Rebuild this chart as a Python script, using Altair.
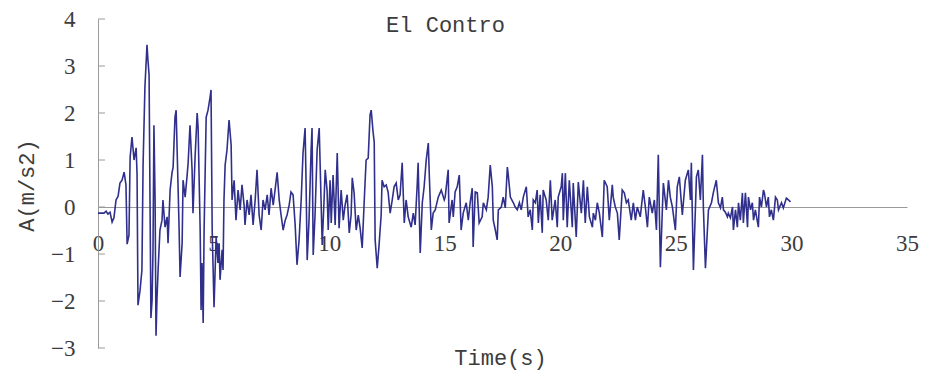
import altair as alt
import pandas as pd

# ---- El Centro record: time (s) and acceleration (m/s2) ----
t_0_5 = [0.00, 0.26, 0.35, 0.43, 0.52, 0.61, 0.69, 0.78, 0.87, 0.95, 1.04, 1.13, 1.21, 1.26,
         1.34, 1.39, 1.47, 1.56, 1.65, 1.69, 1.73, 1.82, 1.90, 1.95, 2.03, 2.12, 2.16, 2.21,
         2.25, 2.29, 2.34, 2.38, 2.42, 2.47, 2.51, 2.55, 2.60, 2.68, 2.77, 2.81, 2.90, 2.99,
         3.03, 3.12, 3.20, 3.25, 3.33, 3.38, 3.46, 3.51, 3.55, 3.64, 3.68, 3.77, 3.85, 3.90,
         3.98, 4.07, 4.11, 4.20, 4.29, 4.33, 4.42, 4.46, 4.50, 4.55, 4.59, 4.68, 4.76, 4.85,
         4.89, 4.94]
a_0_5 = [-0.13, -0.13, -0.09, -0.15, -0.11, -0.32, -0.23, 0.15, 0.23, 0.51, 0.57, 0.74, 0.47, -0.79,
         -0.60, 1.06, 1.49, 1.00, 1.26, 0.68, -2.09, -1.77, -1.34, 0.89, 2.55, 3.45, 3.13, 2.81,
         0.15, -2.36, -1.98, -0.91, 1.74, 0.15, -2.74, -1.98, -1.34, -0.49, -0.28, 0.15, -0.43, -0.21,
         -0.77, 0.36, 0.72, 0.85, 1.91, 2.06, 0.51, -0.49, -1.49, -0.77, 0.57, 0.21, 0.64, 0.94,
         1.74, 0.79, -0.13, 1.06, 2.00, 1.70, -0.49, -2.19, -1.19, -2.47, -0.49, 1.91, 2.06, 2.34,
         2.49, -0.49]

t_5_10 = [5.02, 5.11, 5.19, 5.24, 5.28, 5.37, 5.41, 5.45, 5.50, 5.58, 5.67, 5.76, 5.80, 5.89,
          5.97, 6.06, 6.15, 6.23, 6.32, 6.36, 6.45, 6.54, 6.62, 6.71, 6.80, 6.88, 6.97, 7.06,
          7.14, 7.23, 7.32, 7.40, 7.49, 7.58, 7.66, 7.75, 7.84, 7.92, 8.01, 8.10, 8.18, 8.27,
          8.35, 8.44, 8.53, 8.61, 8.70, 8.79, 8.87, 8.96, 9.00, 9.05, 9.13, 9.22, 9.26, 9.31,
          9.39, 9.48, 9.57, 9.65, 9.70, 9.78, 9.83, 9.91, 9.96]
a_5_10 = [-2.13, -0.64, -1.19, -0.77, -1.55, -0.91, -1.34, 0.15, 0.89, 1.21, 1.85, 1.32, 0.15, 0.57,
          -0.28, 0.36, -0.06, 0.47, 0.04, -0.38, 0.15, -0.17, 0.26, -0.38, 0.15, 0.79, -0.17, -0.49,
          0.15, -0.06, 0.26, -0.17, 0.40, 0.04, 0.36, 0.74, 0.15, -0.17, -0.49, -0.28, -0.17, 0.04,
          0.32, 0.26, -0.38, -1.23, -0.70, 0.15, 1.15, 1.68, 0.57, -1.13, -0.28, 1.21, 1.68, -1.02,
          -0.17, 1.21, 1.68, 0.15, -0.81, 0.15, 0.79, 0.36, -0.49]

t_10_15 = [10.04, 10.09, 10.17, 10.26, 10.35, 10.43, 10.52, 10.61, 10.69, 10.78, 10.87, 10.95,
           11.00, 11.08, 11.17, 11.26, 11.34, 11.43, 11.52, 11.60, 11.69, 11.77, 11.82, 11.90,
           11.95, 11.99, 12.08, 12.16, 12.25, 12.29, 12.38, 12.47, 12.55, 12.64, 12.73, 12.81,
           12.90, 12.99, 13.07, 13.16, 13.25, 13.33, 13.42, 13.55, 13.64, 13.72, 13.81, 13.85,
           13.94, 14.03, 14.11, 14.20, 14.29, 14.33, 14.42, 14.50, 14.59, 14.72, 14.85, 14.98]
a_10_15 = [0.57, -0.34, 0.68, -0.38, 1.15, -0.45, 0.36, -0.28, 0.04, 0.26, -0.55, -0.17,
           0.62, 0.30, -0.49, -0.17, -0.45, -0.87, 0.15, 1.00, 1.04, 1.96, 2.06, 1.60,
           1.38, -0.70, -1.30, -0.81, -0.17, 0.57, 0.43, 0.47, 0.32, -0.13, 0.15, 0.43,
           0.51, 0.15, 0.26, 0.94, -0.34, 0.15, -0.21, -0.43, -0.13, -0.38, 0.47, 0.94,
           -0.98, 0.09, 0.43, 1.00, 1.36, 0.72, -0.49, -0.13, -0.06, 0.21, 0.36, 0.15]

t_15_20 = [15.02, 15.15, 15.19, 15.32, 15.37, 15.45, 15.54, 15.63, 15.71, 15.80, 15.93, 16.02,
           16.10, 16.19, 16.23, 16.32, 16.41, 16.49, 16.62, 16.67, 16.80, 16.88, 16.97, 17.06,
           17.10, 17.19, 17.27, 17.32, 17.45, 17.53, 17.62, 17.71, 17.75, 17.84, 17.97, 18.05,
           18.14, 18.23, 18.31, 18.40, 18.53, 18.61, 18.70, 18.79, 18.83, 18.92, 19.00, 19.05,
           19.13, 19.22, 19.26, 19.39, 19.48, 19.57, 19.65, 19.78, 19.87, 19.91]
a_15_20 = [0.21, 0.79, -0.34, 0.15, -0.21, 0.32, 0.43, 0.68, -0.49, -0.13, 0.09, -0.28,
           0.09, 0.40, -0.85, 0.32, 0.30, -0.34, -0.21, 0.09, -0.06, 0.21, 0.89, 0.43,
           -0.28, -0.49, -0.70, -0.06, 0.00, 0.21, -0.02, 0.85, 0.68, 0.21, 0.09, 0.00,
           -0.06, 0.09, -0.06, 0.21, 0.43, -0.21, -0.06, -0.49, 0.15, 0.09, 0.36, -0.34,
           0.26, -0.55, 0.36, 0.15, -0.28, 0.57, -0.28, 0.15, -0.43, 0.21]

t_20_25 = [20.04, 20.09, 20.13, 20.22, 20.30, 20.39, 20.52, 20.56, 20.69, 20.78, 20.91, 21.00,
           21.08, 21.17, 21.26, 21.39, 21.43, 21.52, 21.60, 21.69, 21.82, 21.90, 22.03, 22.12,
           22.25, 22.29, 22.38, 22.47, 22.55, 22.68, 22.77, 22.86, 22.94, 23.07, 23.16, 23.25,
           23.33, 23.46, 23.59, 23.68, 23.77, 23.85, 23.98, 24.07, 24.16, 24.24, 24.33, 24.42,
           24.46, 24.59, 24.68, 24.76, 24.85, 24.98]
a_20_25 = [0.43, 0.72, -0.28, 0.72, -0.43, 0.57, -0.43, 0.51, -0.64, 0.53, -0.13, 0.57,
           -0.34, 0.43, -0.21, -0.43, -0.13, -0.28, 0.09, -0.13, -0.64, 0.57, 0.43, -0.28,
           0.47, 0.21, 0.00, -0.13, -0.70, 0.36, 0.30, 0.09, 0.15, -0.28, 0.09, -0.28,
           0.00, -0.21, 0.36, 0.00, -0.43, 0.21, -0.13, 0.15, -0.49, 1.11, -1.28, 0.00,
           0.51, -0.06, 0.57, 0.21, 0.00, -0.49]

t_25_30 = [25.06, 25.15, 25.28, 25.41, 25.54, 25.63, 25.67, 25.76, 25.89, 25.97, 26.06, 26.15,
           26.19, 26.28, 26.41, 26.54, 26.62, 26.75, 26.84, 26.93, 27.01, 27.06, 27.14, 27.23,
           27.27, 27.36, 27.45, 27.49, 27.58, 27.66, 27.71, 27.79, 27.88, 27.92, 28.01, 28.10,
           28.14, 28.23, 28.31, 28.36, 28.44, 28.57, 28.62, 28.70, 28.79, 28.83, 28.92, 29.00,
           29.05, 29.13, 29.22, 29.31, 29.39, 29.44, 29.57, 29.65, 29.78, 29.87, 29.96]
a_25_30 = [0.43, 0.64, -0.17, 0.57, 0.79, 0.15, 0.94, -1.34, 0.64, 0.79, 0.15, 1.11,
           0.00, -1.30, -0.06, 0.09, 0.30, 0.57, 0.09, -0.02, 0.21, -0.06, -0.11, -0.21,
           -0.13, -0.23, 0.00, -0.49, -0.06, -0.43, 0.09, -0.28, 0.30, -0.34, 0.30, -0.43,
           0.21, -0.06, 0.09, -0.28, -0.06, -0.43, 0.21, 0.00, 0.36, 0.30, 0.00, 0.21,
           -0.21, -0.06, -0.28, 0.21, 0.15, -0.06, 0.09, -0.02, 0.19, 0.15, 0.11]

x_ticks = [0, 5, 10, 15, 20, 25, 30, 35]
y_ticks = [-3, -2, -1, 0, 1, 2, 3, 4]

time = t_0_5 + t_5_10 + t_10_15 + t_15_20 + t_20_25 + t_25_30
accel = a_0_5 + a_5_10 + a_10_15 + a_15_20 + a_20_25 + a_25_30
df = pd.DataFrame({"t": time, "a": accel})
ticks_df = pd.DataFrame({"v": y_ticks})

SERIF = "Liberation Serif"
MONO = "Liberation Mono"
AXIS_GRAY = "#9a9a9a"
TEXT = "#3c3c3c"

x_scale = alt.Scale(domain=[0, 35], nice=False, zero=False)
y_scale = alt.Scale(domain=[-3, 4], nice=False, zero=False)

line = alt.Chart(df).mark_line(color="#30308c", strokeWidth=1.6).encode(
    x=alt.X("t:Q", scale=x_scale,
            axis=alt.Axis(values=x_ticks, title="Time(s)", offset=-141, ticks=False,
                          grid=False, domainColor=AXIS_GRAY, domainWidth=1,
                          labelFont=SERIF, labelFontSize=23, labelColor=TEXT,
                          labelPadding=25, labelFlush=False, labelOverlap=False,
                          titleFont=MONO, titleFontSize=22, titleFontWeight="normal",
                          titleColor=TEXT, titleX=402, titleY=150,
                          titleAlign="center", titleBaseline="middle")),
    y=alt.Y("a:Q", scale=y_scale,
            axis=alt.Axis(values=y_ticks, title="A(m/s2)", ticks=False, grid=False,
                          domainColor=AXIS_GRAY, domainWidth=1,
                          labelFont=SERIF, labelFontSize=23, labelColor=TEXT,
                          labelPadding=23, labelFlush=False, labelOverlap=False,
                          titleFont=MONO, titleFontSize=22, titleFontWeight="normal",
                          titleColor=TEXT, titleX=-72, titleY=166, titleAngle=270,
                          titleAlign="center", titleBaseline="middle")),
)

inner_ticks = alt.Chart(ticks_df).mark_rule(color=AXIS_GRAY, strokeWidth=1).encode(
    y=alt.Y("v:Q", scale=y_scale),
    x=alt.value(0),
    x2=alt.value(7),
)

chart = alt.layer(inner_ticks, line).properties(
    width=809,
    height=329,
    autosize=alt.AutoSizeParams(type="none"),
    padding={"left": 98, "top": 19, "right": 18, "bottom": 26},
    background="white",
    title=alt.TitleParams("El Contro", font=MONO, fontSize=22, fontWeight="normal",
                          color=TEXT, anchor="middle", frame="group", baseline="top",
                          offset=0, dx=-57, dy=29),
).configure_view(stroke=None)

chart.save("out.html", embed_options={"renderer": "svg", "actions": False})
